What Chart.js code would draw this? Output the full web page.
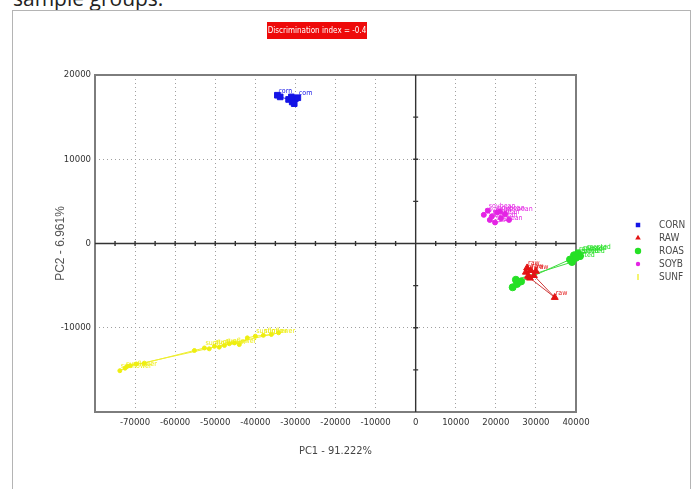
<!DOCTYPE html>
<html>
<head>
<meta charset="utf-8">
<script src="https://cdn.jsdelivr.net/npm/chart.js@4.4.1/dist/chart.umd.min.js"></script>
<style>
  html, body { margin: 0; padding: 0; background: #fff; }
  body { width: 693px; height: 489px; position: relative; overflow: hidden; }
  .caption { position: absolute; left: 13px; top: -12px; font: 21px/21px "Open Sans", sans-serif; color: #222; white-space: nowrap; }
  .frame { position: absolute; left: 12px; top: 10px; width: 677px; height: 500px; border: 1px solid #b4b4b4; }
  #pca { position: absolute; left: 0; top: 0; }
</style>
</head>
<body>
<div class="caption">sample groups.</div>
<div class="frame"></div>
<canvas id="pca" width="693" height="489"></canvas>
<script>
// scores (PC1, PC2)
const cornX = [-34500, -33800, -31700, -30800, -30000, -29400, -31000, -30300];
const cornY = [17600, 17400, 17100, 16800, 17200, 17300, 17400, 16600];
const cornLabels = ['corn', '', '', '', '', 'corn', '', ''];

const rawX = [27500, 28700, 28000, 28500, 34700, 29500, 30000, 27800];
const rawY = [-3400, -3200, -3900, -4100, -6400, -3800, -3300, -2900];
const rawLabels = ['raw', 'raw', '', '', 'raw', '', 'raw', 'raw'];

const roasX = [24200, 25300, 26300, 38500, 39500, 40500, 41500, 42500, 41000, 40000, 39000, 25000];
const roasY = [-5200, -4800, -4500, -1900, -1400, -1200, -1100, -1000, -1500, -1700, -2200, -4300];
const roasLabels = ['', '', '', 'roasted', 'roasted', 'roasted', 'roasted', 'roasted', 'roasted', '', '', ''];

const soyX = [17000, 18000, 19000, 20300, 21300, 22300, 23300, 19800, 18500, 21000];
const soyY = [3400, 3900, 3200, 3700, 3000, 3500, 2800, 2500, 2800, 3800];
const soyLabels = ['soybean', 'soybean', 'soybean', 'soybean', '', 'soybean', '', 'soybean', 'soybean', ''];

const sunfX = [-73800, -72500, -71200, -69700, -67700, -55200, -52700, -51500, -50200, -49000, -47700, -46500, -45200, -44000, -42000, -40000, -38000, -36000, -34200, -72000];
const sunfY = [-15100, -14800, -14500, -14300, -14200, -12700, -12400, -12500, -12200, -12300, -12100, -11900, -11800, -12000, -11200, -11000, -10900, -10800, -10600, -14600];
const sunfLabels = ['sunflower', 'sunflower', '', '', '', '', 'sunflower', '', 'sunflower', '', 'sunflower', '', '', '', '', 'sunflower', 'sunflower', '', '', ''];

const groupNames = ['CORN', 'RAW', 'ROAS', 'SOYB', 'SUNF'];
const xTickLabels = [-70000, -60000, -50000, -40000, -30000, -20000, -10000, 0, 10000, 20000, 30000, 40000];
const yTickLabels = [-10000, 0, 10000, 20000];

const NARROW = '"Liberation Sans Narrow", "DejaVu Sans Condensed", "Liberation Sans", sans-serif';
const pts = (xs, ys) => xs.map((x, i) => ({ x, y: ys[i] }));

function group(name, xs, ys, labels, color, line, style, radius) {
  return {
    label: name, data: pts(xs, ys), pointLabels: labels,
    showLine: true, borderColor: line, borderWidth: 1,
    pointBackgroundColor: color, pointBorderColor: color, pointBorderWidth: 1,
    pointStyle: style, pointRadius: radius, clip: false, markColor: color,
  };
}

const datasets = [
  group(groupNames[0], cornX, cornY, cornLabels, '#1414e6', '#3b3bf2', 'rect', 4),
  group(groupNames[1], rawX, rawY, rawLabels, '#e31414', '#cf3a3a', 'triangle', 4),
  group(groupNames[2], roasX, roasY, roasLabels, '#25e025', '#3fdc3f', 'circle', 3.5),
  group(groupNames[3], soyX, soyY, soyLabels, '#e424e4', '#e84ce8', 'circle', 2.5),
  group(groupNames[4], sunfX, sunfY, sunfLabels, '#eeee10', '#eeee30', 'circle', 2),
];

function drawMark(ctx, style, x, y, r) {
  ctx.beginPath();
  if (style === 'rect') {
    ctx.rect(x - r * 0.7, y - r * 0.7, r * 1.4, r * 1.4);
  } else if (style === 'triangle') {
    ctx.moveTo(x, y - r); ctx.lineTo(x + r * 0.87, y + r * 0.5); ctx.lineTo(x - r * 0.87, y + r * 0.5); ctx.closePath();
  } else if (style === 'vline') {
    ctx.rect(x - 0.6, y - r, 1.2, r * 2);
  } else {
    ctx.arc(x, y, r, 0, Math.PI * 2);
  }
  ctx.fill();
}

const pcaFrame = {
  id: 'pcaFrame',
  beforeDatasetsDraw(chart) {
    const { ctx, chartArea: a, scales: { x, y } } = chart;
    ctx.save();
    // plot box
    ctx.strokeStyle = '#7d7d7d';
    ctx.lineWidth = 2;
    ctx.strokeRect(a.left, a.top, a.right - a.left, a.bottom - a.top);
    // zero axes with tick marks every 5000
    const x0 = x.getPixelForValue(0), y0 = y.getPixelForValue(0);
    ctx.strokeStyle = '#333';
    ctx.lineWidth = 1.4;
    ctx.beginPath();
    ctx.moveTo(a.left, y0); ctx.lineTo(a.right, y0);
    ctx.moveTo(x0, a.top); ctx.lineTo(x0, a.bottom);
    for (let v = x.min + 5000; v < x.max; v += 5000) {
      const px = x.getPixelForValue(v);
      ctx.moveTo(px, y0 - 2.5); ctx.lineTo(px, y0 + 2.5);
    }
    for (let v = y.min + 5000; v < y.max; v += 5000) {
      const py = y.getPixelForValue(v);
      ctx.moveTo(x0 - 2.5, py); ctx.lineTo(x0 + 2.5, py);
    }
    ctx.stroke();
    ctx.restore();
  },
  afterDatasetsDraw(chart) {
    const { ctx } = chart;
    ctx.save();
    // sample names next to points
    ctx.font = '7px ' + NARROW;
    ctx.textBaseline = 'bottom';
    chart.data.datasets.forEach((ds, i) => {
      const meta = chart.getDatasetMeta(i);
      ctx.fillStyle = ds.markColor;
      meta.data.forEach((el, j) => {
        const t = ds.pointLabels[j];
        if (t) ctx.fillText(t, el.x + 1, el.y - 1);
      });
    });
    // legend
    ctx.font = '10px ' + NARROW;
    ctx.textBaseline = 'middle';
    chart.data.datasets.forEach((ds, i) => {
      const ly = 225 + i * 13;
      ctx.fillStyle = ds.markColor;
      const style = i === 4 ? 'vline' : ds.pointStyle;
      drawMark(ctx, style, 638, ly, i === 3 ? 2.2 : i === 4 ? 3 : 3.2);
      ctx.fillStyle = '#4a4a4a';
      ctx.fillText(ds.label, 659, ly);
    });
    // discrimination index badge
    ctx.fillStyle = '#ee0a0a';
    ctx.fillRect(267, 22, 100, 17);
    ctx.fillStyle = '#fff';
    ctx.font = '8px ' + NARROW;
    ctx.textAlign = 'center';
    ctx.fillText('Discrimination index = -0.4', 317, 31);
    ctx.restore();
  },
};

const hideAt = (vals) => (c) => (c.tick && vals.includes(c.tick.value)) ? 'rgba(0,0,0,0)' : '#a0a0a0';

new Chart(document.getElementById('pca'), {
  type: 'scatter',
  data: { datasets },
  options: {
    responsive: false, animation: false, events: [], devicePixelRatio: 1,
    layout: { padding: { left: 53, top: 75, right: 117, bottom: 31 } },
    plugins: { legend: { display: false }, tooltip: { enabled: false } },
    scales: {
      x: {
        type: 'linear', min: -80000, max: 40000,
        afterFit: (s) => { s.height = 46; },
        ticks: {
          stepSize: 10000, padding: 5, color: '#333', font: { family: NARROW, size: 9.5 },
          callback: (v) => xTickLabels.includes(v) ? String(v) : '',
        },
        grid: { drawTicks: false, lineWidth: 1, color: hideAt([-80000, 0, 40000]) },
        border: { display: false, dash: [1, 3] },
        title: { display: true, text: 'PC1 - 91.222%', color: '#444', padding: 0, font: { family: NARROW, size: 11 } },
      },
      y: {
        type: 'linear', min: -20000, max: 20000,
        afterFit: (s) => { s.width = 42; },
        ticks: {
          stepSize: 10000, padding: 4, color: '#333', font: { family: NARROW, size: 9.5 },
          callback: (v) => yTickLabels.includes(v) ? String(v) : '',
        },
        grid: { drawTicks: false, lineWidth: 1, color: hideAt([-20000, 0, 20000]) },
        border: { display: false, dash: [1, 3] },
        title: { display: true, text: 'PC2 - 6.961%', color: '#555', padding: 0, font: { family: '"Liberation Sans", Arial, sans-serif', size: 12 } },
      },
    },
  },
  plugins: [pcaFrame],
});
</script>
</body>
</html>
